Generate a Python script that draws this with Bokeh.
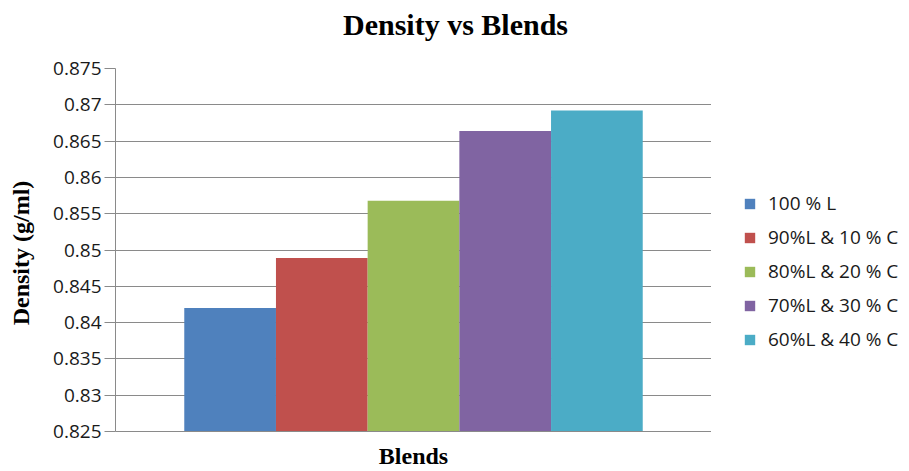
from bokeh.plotting import figure
from bokeh.layouts import row, column
from bokeh.models import (ColumnDataSource, Range1d, FactorRange, FixedTicker, Legend,
                          LegendItem, Label)
from bokeh.embed import file_html
from bokeh.resources import INLINE

blends = ["100 % L", "90%L & 10 % C", "80%L & 20 % C", "70%L & 30 % C", "60%L & 40 % C"]
density = [0.8420, 0.8489, 0.8568, 0.8664, 0.8692]
colors = ["#4F81BD", "#C0504D", "#9BBB59", "#8064A2", "#4BACC6"]
y_ticks = [0.825, 0.83, 0.835, 0.84, 0.845, 0.85, 0.855, 0.86, 0.865, 0.87, 0.875]
y_tick_labels = ["0.825", "0.83", "0.835", "0.84", "0.845", "0.85", "0.855", "0.86", "0.865", "0.87", "0.875"]
y_min, y_max = 0.825, 0.875
title_text = "Density vs Blends"

source = ColumnDataSource(dict(blend=blends, density=density, color=colors,
                               base=[y_min] * len(blends)))

TOP_H = 50
W, H = 909, 471
MAIN_W = 711


def bare(fig):
    fig.xaxis.visible = False
    fig.yaxis.visible = False
    fig.xgrid.visible = False
    fig.ygrid.visible = False
    fig.outline_line_color = None
    fig.min_border_left = fig.min_border_right = 0
    fig.min_border_top = fig.min_border_bottom = 0


# ---- title strip
pt = figure(width=W, height=TOP_H, output_backend="svg", toolbar_location=None,
            x_range=Range1d(0, 1), y_range=Range1d(0, 1))
bare(pt)
pt.add_layout(Label(x=455, y=TOP_H - 24, x_units="screen", y_units="screen",
                    text=title_text, text_align="center", text_baseline="middle",
                    text_font="Liberation Serif", text_font_size="30px",
                    text_font_style="bold", text_color="#000000"))

# ---- main chart
p = figure(width=MAIN_W, height=H - TOP_H, output_backend="svg", toolbar_location=None,
           x_range=FactorRange(*blends, range_padding=0.3, range_padding_units="percent"),
           y_range=Range1d(y_min, y_max),
           min_border_left=115, min_border_right=0, min_border_top=68 - TOP_H,
           min_border_bottom=39)

p.vbar(x="blend", top="density", bottom="base", width=1.0, color="color",
       line_color=None, source=source)

yax = p.yaxis[0]
yax.ticker = FixedTicker(ticks=y_ticks)
yax.major_label_overrides = {t: l for t, l in zip(y_ticks, y_tick_labels)}
yax.major_label_text_font = "Open Sans"
yax.major_label_text_font_size = "19px"
yax.major_label_text_color = "#1a1a1a"
yax.major_tick_in = 0
yax.major_tick_out = 11
yax.minor_tick_line_color = None
yax.major_tick_line_color = "#8a8a8a"
yax.axis_line_color = "#8a8a8a"
yax.major_label_standoff = 3
yax.axis_label = "Density  (g/ml)"
yax.axis_label_text_font = "Liberation Serif"
yax.axis_label_text_font_size = "24px"
yax.axis_label_text_font_style = "bold"
yax.axis_label_text_color = "#000000"
yax.axis_label_standoff = 16

xax = p.xaxis[0]
xax.major_label_text_font_size = "0px"
xax.major_label_text_color = None
xax.major_tick_line_color = None
xax.minor_tick_line_color = None
xax.axis_line_color = "#8a8a8a"
xax.axis_label = "Blends"
xax.axis_label_text_font = "Liberation Serif"
xax.axis_label_text_font_size = "24px"
xax.axis_label_text_font_style = "bold"
xax.axis_label_text_color = "#000000"
xax.axis_label_standoff = 5

p.xgrid.grid_line_color = None
p.ygrid.grid_line_color = "#8a8a8a"
p.ygrid.grid_line_width = 1.2
p.outline_line_color = None

# ---- legend strip (hidden copy of the bars only feeds the legend swatches)
pl = figure(width=W - MAIN_W, height=H - TOP_H, output_backend="svg", toolbar_location=None,
            x_range=FactorRange(*blends), y_range=Range1d(y_max + 1, y_max + 2))
bare(pl)
rl = pl.vbar(x="blend", top="density", bottom="base", width=1.0, color="color",
             line_color=None, source=source)
rl.visible = False
items = [LegendItem(label=b, renderers=[rl], index=i) for i, b in enumerate(blends)]
leg = Legend(items=items, location=(32, 79))
leg.border_line_color = None
leg.background_fill_alpha = 0
leg.inactive_fill_alpha = 0
leg.glyph_width = 13
leg.glyph_height = 13
leg.label_height = 22
leg.spacing = 8
leg.padding = 8
leg.margin = 0
leg.label_text_font = "Open Sans"
leg.label_text_font_size = "19px"
leg.label_text_color = "#1a1a1a"
leg.label_standoff = 12
pl.add_layout(leg, "center")

layout = column(pt, row(p, pl, spacing=0), spacing=0)

open("out.html", "w").write(file_html(layout, INLINE))
